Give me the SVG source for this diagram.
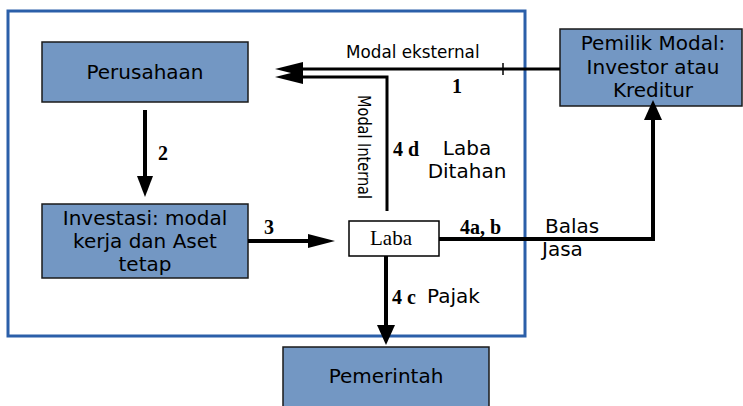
<svg xmlns="http://www.w3.org/2000/svg" width="743" height="406" viewBox="0 0 743 406">
<style>
.box{fill:#7397c3;stroke:#1a1a1a;stroke-width:1.5}
.t{font-family:"DejaVu Sans",Verdana,sans-serif;font-size:20px;fill:#000}
.lb{font-family:"Liberation Serif","Times New Roman",serif;font-size:20px;font-weight:bold;fill:#000}
.ln{fill:none;stroke:#000;stroke-width:4}
.ln3{fill:none;stroke:#000;stroke-width:3}
.ah{fill:#000}
</style>
<rect x="8" y="11" width="517" height="325" fill="none" stroke="#2b5fa9" stroke-width="3"/>
<g id="perusahaan">
<rect class="box" x="42" y="42" width="206" height="60"/>
<text class="t" x="145" y="79" text-anchor="middle">Perusahaan</text>
</g>
<g id="investasi">
<rect class="box" x="42" y="204" width="206" height="74"/>
<text class="t" x="145" y="225" text-anchor="middle">Investasi: modal</text>
<text class="t" x="145" y="248" text-anchor="middle">kerja dan Aset</text>
<text class="t" x="145" y="271" text-anchor="middle">tetap</text>
</g>
<g id="pemilik">
<rect class="box" x="560" y="29" width="182" height="77"/>
<text class="t" x="653" y="50" text-anchor="middle">Pemilik Modal:</text>
<text class="t" x="653" y="74" text-anchor="middle">Investor atau</text>
<text class="t" x="653" y="97" text-anchor="middle">Kreditur</text>
</g>
<g id="laba">
<rect x="349" y="221" width="90" height="35" fill="#fff" stroke="#000" stroke-width="1.5"/>
<text x="391" y="245" text-anchor="middle" font-family="Liberation Serif, Times New Roman, serif" font-size="21">Laba</text>
</g>
<g id="pemerintah">
<rect class="box" x="283" y="347" width="206" height="70"/>
<text class="t" x="386" y="383" text-anchor="middle">Pemerintah</text>
</g>
<g id="connectors">
<path class="ln3" d="M560 69 H300"/>
<path d="M503 63 V75" stroke="#000" stroke-width="1.5"/>
<path class="ln3" d="M387 211 V77 H300"/>
<polygon class="ah" points="275,69 303,62 303,76"/>
<polygon class="ah" points="275,77 303,70 303,84"/>
<path class="ln" d="M145 110 V178"/>
<polygon class="ah" points="145,197 137,176 153,176"/>
<path class="ln" d="M248 241 H310"/>
<polygon class="ah" points="335,241 308,234 308,248"/>
<path class="ln" d="M439 239 H653 V118"/>
<polygon class="ah" points="653,100 644,120 662,120"/>
<path class="ln" d="M386 256 V327"/>
<polygon class="ah" points="386,345 377,325 395,325"/>
</g>
<text x="346" y="58" font-family="DejaVu Sans, Verdana, sans-serif" font-size="16.8">Modal eksternal</text>
<text transform="translate(358,95) rotate(90)" font-family="DejaVu Sans, Verdana, sans-serif" font-size="17" textLength="104" lengthAdjust="spacingAndGlyphs">Modal Internal</text>
<text class="lb" x="452" y="93">1</text>
<text class="lb" x="158" y="160">2</text>
<text class="lb" x="264" y="234">3</text>
<text class="lb" x="393" y="156">4 d</text>
<text class="lb" x="460" y="234">4a, b</text>
<text class="lb" x="392" y="304">4 c</text>
<text class="t" x="467" y="155" text-anchor="middle">Laba</text>
<text class="t" x="467" y="178" text-anchor="middle">Ditahan</text>
<text class="t" x="545" y="233">Balas</text>
<text class="t" x="542" y="256">Jasa</text>
<text class="t" x="427" y="303">Pajak</text>
</svg>
